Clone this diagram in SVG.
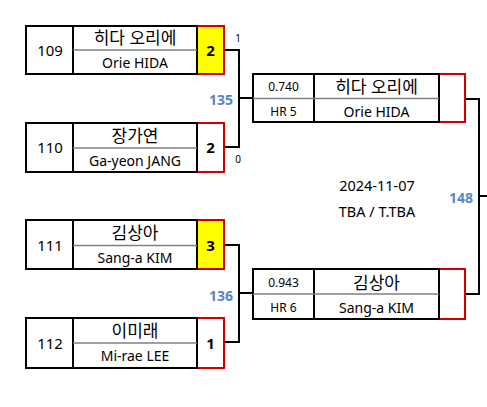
<svg xmlns="http://www.w3.org/2000/svg" width="487" height="407" viewBox="0 0 487 407">
<style>
.box{fill:#fff;stroke:#000;stroke-width:2}
.div{stroke:#808080;stroke-width:1.5}
.red{fill:none;stroke:#d00000;stroke-width:2}
.yel{fill:#ffff00}
.con{fill:none;stroke:#000;stroke-width:2}
text{font-family:"Noto Sans","Noto Sans CJK KR",sans-serif;fill:#000;text-anchor:middle;dominant-baseline:central}
.ko{font-size:17px}
.en{font-size:14px}
.num{font-size:15px}
.sc{font-size:15px;font-weight:bold}
.sm{font-size:12px}
.tiny{font-size:10px}
.lab{font-size:14px;font-weight:bold;fill:#5a86c0;text-anchor:end}
.dt{font-size:14.5px}
</style>
<g id="connectors">
<path class="con" d="M224 50H239V147H224M239 98H253"/>
<path class="con" d="M224 245H239V342H224M239 293H253"/>
<path class="con" d="M465 99H479V294H465M479 196H487"/>
</g>
<g id="labels">
<text class="tiny" x="238" y="38">1</text>
<text class="tiny" x="238" y="159">0</text>
<text class="lab" x="233" y="99">135</text>
<text class="lab" x="233" y="295">136</text>
<text class="lab" x="473" y="197">148</text>
<text class="dt" x="377" y="185">2024-11-07</text>
<text class="dt" x="377" y="211">TBA / T.TBA</text>
</g>
<g id="p109">
<rect class="yel" x="197" y="26" width="27" height="48"/>
<path class="red" d="M197 26H224V74H197"/>
<rect class="box" x="26" y="26" width="171" height="48"/>
<line class="box" x1="73" y1="26" x2="73" y2="74"/>
<line class="div" x1="73" y1="50" x2="197" y2="50"/>
<text class="num" x="50" y="50">109</text>
<text class="ko" x="135" y="37">히다 오리에</text>
<text class="en" x="135" y="62">Orie HIDA</text>
<text class="sc" x="210.5" y="50">2</text>
</g>
<g id="p110">
<path class="red" d="M197 123H224V172H197"/>
<rect class="box" x="26" y="123" width="171" height="49"/>
<line class="box" x1="73" y1="123" x2="73" y2="172"/>
<line class="div" x1="73" y1="148" x2="197" y2="148"/>
<text class="num" x="50" y="147">110</text>
<text class="ko" x="135" y="135">장가연</text>
<text class="en" x="135" y="160">Ga-yeon JANG</text>
<text class="sc" x="210.5" y="147">2</text>
</g>
<g id="p111">
<rect class="yel" x="197" y="220" width="27" height="49"/>
<path class="red" d="M197 220H224V269H197"/>
<rect class="box" x="26" y="220" width="171" height="49"/>
<line class="box" x1="73" y1="220" x2="73" y2="269"/>
<line class="div" x1="73" y1="245.5" x2="197" y2="245.5"/>
<text class="num" x="50" y="245">111</text>
<text class="ko" x="135" y="232">김상아</text>
<text class="en" x="135" y="257">Sang-a KIM</text>
<text class="sc" x="210.5" y="245">3</text>
</g>
<g id="p112">
<path class="red" d="M197 318H224V368H197"/>
<rect class="box" x="26" y="318" width="171" height="50"/>
<line class="box" x1="73" y1="318" x2="73" y2="368"/>
<line class="div" x1="73" y1="343" x2="197" y2="343"/>
<text class="num" x="50" y="343">112</text>
<text class="ko" x="135" y="330">이미래</text>
<text class="en" x="135" y="355">Mi-rae LEE</text>
<text class="sc" x="210.5" y="343">1</text>
</g>
<g id="m135">
<path class="red" d="M439 74H465V122H439"/>
<rect class="box" x="253" y="74" width="186" height="48"/>
<line class="box" x1="314" y1="74" x2="314" y2="122"/>
<line class="div" x1="253" y1="98.5" x2="439" y2="98.5"/>
<text class="sm" x="283.5" y="86">0.740</text>
<text class="sm" x="283.5" y="111">HR 5</text>
<text class="ko" x="376.5" y="86">히다 오리에</text>
<text class="en" x="376.5" y="111">Orie HIDA</text>
</g>
<g id="m136">
<path class="red" d="M439 269H465V319H439"/>
<rect class="box" x="253" y="269" width="186" height="50"/>
<line class="box" x1="314" y1="269" x2="314" y2="319"/>
<line class="div" x1="253" y1="294" x2="439" y2="294"/>
<text class="sm" x="283.5" y="282">0.943</text>
<text class="sm" x="283.5" y="307">HR 6</text>
<text class="ko" x="376.5" y="282">김상아</text>
<text class="en" x="376.5" y="307">Sang-a KIM</text>
</g>
</svg>
